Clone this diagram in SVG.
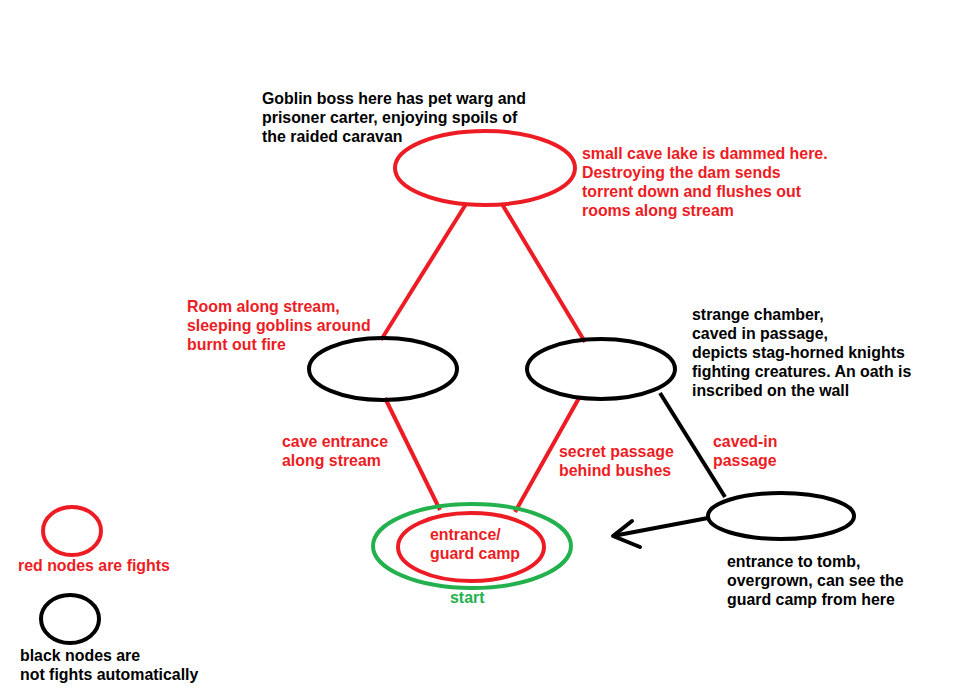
<svg xmlns="http://www.w3.org/2000/svg" width="965" height="699" viewBox="0 0 965 699">
<style>
.r{fill:none;stroke:#ED1C24;stroke-width:4}
.k{fill:none;stroke:#000;stroke-width:4}
.g{fill:none;stroke:#22B14C;stroke-width:4}
text{font-family:"Liberation Sans",Arial,sans-serif;font-weight:bold;font-size:15.9px}
.tr{fill:#ED1C24}
.tk{fill:#000}
.tg{fill:#22B14C}
</style>
<rect width="965" height="699" fill="#fff"/>
<g id="connectors">
<line class="r" x1="466" y1="204" x2="381" y2="340"/>
<line class="r" x1="502" y1="204" x2="585" y2="342"/>
<line class="r" x1="385" y1="398" x2="440" y2="510"/>
<line class="r" x1="579" y1="398" x2="515" y2="512"/>
<line class="k" x1="660" y1="393" x2="725" y2="497"/>
<polyline class="k" points="708,518 613,536"/>
<polyline class="k" points="632,521 613,536 640,547" stroke-linecap="round" stroke-linejoin="round"/>
</g>
<g id="boss">
<ellipse class="r" cx="485" cy="168" rx="90" ry="37"/>
<text class="tk" x="262" y="104">Goblin boss here has pet warg and</text>
<text class="tk" x="262" y="123">prisoner carter, enjoying spoils of</text>
<text class="tk" x="262" y="142">the raided caravan</text>
<text class="tr" x="582" y="159">small cave lake is dammed here.</text>
<text class="tr" x="582" y="178">Destroying the dam sends</text>
<text class="tr" x="582" y="197">torrent down and flushes out</text>
<text class="tr" x="582" y="216">rooms along stream</text>
</g>
<g id="room">
<ellipse class="k" cx="383" cy="369" rx="74" ry="31"/>
<text class="tr" x="187" y="312">Room along stream,</text>
<text class="tr" x="187" y="331">sleeping goblins around</text>
<text class="tr" x="187" y="350">burnt out fire</text>
</g>
<g id="chamber">
<ellipse class="k" cx="601" cy="369" rx="74" ry="30"/>
<text class="tk" x="692" y="320">strange chamber,</text>
<text class="tk" x="692" y="339">caved in passage,</text>
<text class="tk" x="692" y="358">depicts stag-horned knights</text>
<text class="tk" x="692" y="377">fighting creatures. An oath is</text>
<text class="tk" x="692" y="396">inscribed on the wall</text>
</g>
<g id="edge-labels">
<text class="tr" x="282" y="447">cave entrance</text>
<text class="tr" x="282" y="466">along stream</text>
<text class="tr" x="559" y="457">secret passage</text>
<text class="tr" x="559" y="476">behind bushes</text>
<text class="tr" x="713" y="447">caved-in</text>
<text class="tr" x="713" y="466">passage</text>
</g>
<g id="start">
<ellipse class="g" cx="472" cy="546" rx="99" ry="42"/>
<ellipse class="r" cx="471" cy="547" rx="73" ry="34"/>
<text class="tr" x="430" y="540">entrance/</text>
<text class="tr" x="430" y="559">guard camp</text>
<text class="tg" x="450" y="603">start</text>
</g>
<g id="tomb">
<ellipse class="k" cx="781" cy="516" rx="73" ry="23"/>
<text class="tk" x="727" y="567">entrance to tomb,</text>
<text class="tk" x="727" y="586">overgrown, can see the</text>
<text class="tk" x="727" y="605">guard camp from here</text>
</g>
<g id="legend-red">
<ellipse class="r" cx="72" cy="531" rx="29" ry="24"/>
<text class="tr" x="18" y="571">red nodes are fights</text>
</g>
<g id="legend-black">
<ellipse class="k" cx="70" cy="619" rx="29" ry="24"/>
<text class="tk" x="20" y="661">black nodes are</text>
<text class="tk" x="20" y="680">not fights automatically</text>
</g>
</svg>
